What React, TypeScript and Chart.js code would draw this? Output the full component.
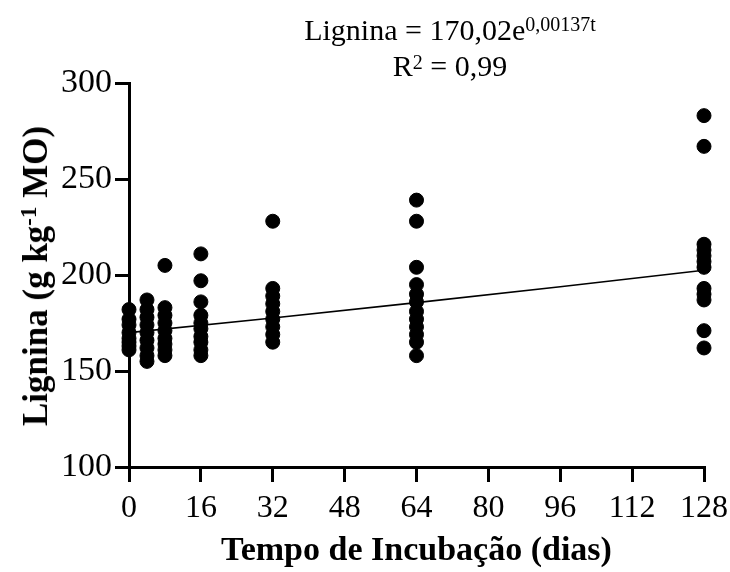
import React, { useEffect, useRef } from "react";
import { Chart, registerables } from "chart.js";

Chart.register(...registerables);

const days = [0, 4, 8, 16, 32, 64, 128];
const day0 = [182, 177, 174, 170, 167, 165, 163, 161];
const day4 = [187, 182, 178, 174, 170, 166, 162, 158, 155];
const day8 = [205, 183, 179, 175, 171, 167, 164, 161, 158];
const day16 = [211, 197, 186, 179, 175, 172, 168, 165, 161, 158];
const day32 = [228, 193, 189, 185, 181, 177, 173, 169, 165];
const day64 = [239, 228, 204, 195, 190, 186, 181, 177, 173, 169, 165, 158];
const day128 = [283, 267, 216, 213, 210, 207, 204, 193, 190, 187, 171, 162];
const groups = [day0, day4, day8, day16, day32, day64, day128];

const fitX = [0, 32, 64, 96, 128];
const fitY = [170.0, 177.6, 185.6, 193.9, 202.5];

const xTicks = [0, 16, 32, 48, 64, 80, 96, 112, 128];
const yTicks = [100, 150, 200, 250, 300];

const SERIF = "'Liberation Serif', 'Times New Roman', serif";

export default function App() {
  const ref = useRef<HTMLCanvasElement | null>(null);

  useEffect(() => {
    if (!ref.current) return;
    const points: { x: number; y: number }[] = [];
    groups.forEach((g, i) => g.forEach((v) => points.push({ x: days[i], y: v })));
    const fit = fitX.map((x, i) => ({ x, y: fitY[i] }));

    const chart = new Chart(ref.current, {
      type: "scatter",
      data: {
        datasets: [
          {
            type: "line",
            data: fit,
            borderColor: "#000",
            borderWidth: 1.6,
            pointRadius: 0,
            fill: false,
            tension: 0,
          } as any,
          {
            data: points,
            backgroundColor: "#000",
            borderColor: "#000",
            pointRadius: 7,
            pointHoverRadius: 7,
            clip: false,
          } as any,
        ],
      },
      options: {
        animation: false,
        responsive: false,
        maintainAspectRatio: false,
        events: [],
        layout: { padding: { top: 83, right: 26, left: 0, bottom: 0 } },
        plugins: { legend: { display: false }, tooltip: { enabled: false } },
        scales: {
          x: {
            type: "linear",
            min: 0,
            max: 128,
            afterBuildTicks: (s: any) => {
              s.ticks = xTicks.map((v) => ({ value: v }));
            },
            afterFit: (s: any) => {
              s.height = 105;
              s.paddingLeft = 0;
              s.paddingRight = 0;
            },
            grid: {
              drawOnChartArea: false,
              drawTicks: true,
              tickLength: 15,
              color: "#000",
              lineWidth: 3,
            },
            border: { display: true, color: "#000", width: 3 },
            ticks: {
              color: "#000",
              font: { family: SERIF, size: 32 },
              padding: 7,
              maxRotation: 0,
              autoSkip: false,
            },
            title: {
              display: true,
              text: "Tempo de Incubação (dias)",
              color: "#000",
              font: { family: SERIF, size: 34, weight: "bold" },
              padding: { top: 4, bottom: 0 },
            },
          },
          y: {
            type: "linear",
            min: 100,
            max: 300,
            afterBuildTicks: (s: any) => {
              s.ticks = yTicks.map((v) => ({ value: v }));
            },
            afterFit: (s: any) => {
              s.width = 129;
              s.paddingTop = 0;
              s.paddingBottom = 0;
            },
            grid: {
              drawOnChartArea: false,
              drawTicks: true,
              tickLength: 14,
              color: "#000",
              lineWidth: 3,
            },
            border: { display: true, color: "#000", width: 3 },
            ticks: {
              color: "#000",
              font: { family: SERIF, size: 34 },
              padding: 3,
              autoSkip: false,
            },
          },
        },
      },
    });
    return () => chart.destroy();
  }, []);

  return (
    <div
      style={{
        position: "fixed",
        left: 0,
        top: 0,
        width: 730,
        height: 572,
        background: "#fff",
        fontFamily: SERIF,
        color: "#000",
      }}
    >
      <canvas ref={ref} width={730} height={572} style={{ display: "block" }} />
      <div
        style={{
          position: "absolute",
          left: 0,
          top: 12,
          width: 900,
          textAlign: "center",
          fontSize: 30,
          lineHeight: "36px",
          whiteSpace: "nowrap",
        }}
      >
        <div>
          Lignina = 170,02e
          <sup style={{ fontSize: 20, verticalAlign: "top", position: "relative", top: -6 }}>
            0,00137t
          </sup>
        </div>
        <div>
          R<sup style={{ fontSize: 20, verticalAlign: "top", position: "relative", top: -4 }}>2</sup> = 0,99
        </div>
      </div>
      <div
        style={{
          position: "absolute",
          left: 36,
          top: 276,
          transform: "translate(-50%, -50%) rotate(-90deg)",
          fontSize: 35,
          fontWeight: "bold",
          whiteSpace: "nowrap",
          lineHeight: "40px",
        }}
      >
        Lignina (g kg
        <sup style={{ fontSize: 23, verticalAlign: "top", position: "relative", top: -7 }}>-1</sup> MO)
      </div>
    </div>
  );
}
